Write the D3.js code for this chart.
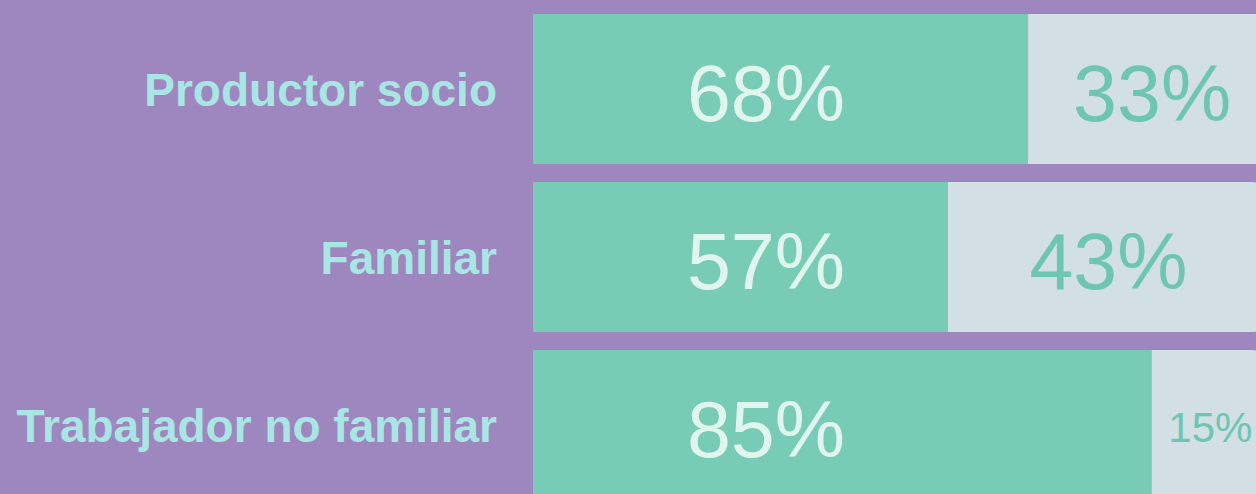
<!DOCTYPE html>
<html>
<head>
<meta charset="utf-8">
<script src="https://cdn.jsdelivr.net/npm/d3@7"></script>
<style>
  html, body { margin: 0; padding: 0; background: #9e86bf; overflow: hidden; }
  svg { display: block; }
</style>
</head>
<body>
<svg id="chart" width="1256" height="494"></svg>
<script>
const categories = ["Productor socio", "Familiar", "Trabajador no familiar"];
const primaryValues = [68, 57, 85];
const secondaryValues = [33, 43, 15];

const W = 1256, H = 494;
const svg = d3.select("#chart");
svg.append("rect").attr("width", W).attr("height", H).attr("fill", "#9e86bf");

const x = d3.scaleLinear().domain([0, 100]).range([533, 1261]);
const y = d3.scaleBand().domain(categories).range([14, 500]).paddingInner(18 / 168).paddingOuter(0);

const rows = categories.map((c, i) => ({ c, p: primaryValues[i], s: secondaryValues[i] }));

const g = svg.selectAll("g.row").data(rows).join("g").attr("class", "row");

// secondary (gray) segment
g.append("rect")
  .attr("x", d => x(d.p) - 10)
  .attr("y", d => y(d.c))
  .attr("width", d => x(d.p + d.s) - x(d.p) + 10)
  .attr("height", y.bandwidth())
  .attr("rx", 8).attr("ry", 8)
  .attr("fill", "#d2dfe4");

// primary (green) segment
g.append("rect")
  .attr("x", x(0))
  .attr("y", d => y(d.c))
  .attr("width", d => x(d.p) - x(0))
  .attr("height", y.bandwidth())
  .attr("fill", "#78cbb5");

// primary labels
g.append("text")
  .attr("x", 766)
  .attr("y", d => y(d.c) + y.bandwidth() / 2)
  .attr("dy", "0.41em")
  .attr("text-anchor", "middle")
  .attr("font-family", "'Liberation Sans', Arial, sans-serif")
  .attr("font-size", 79)
  .attr("fill", "#e0f5ee")
  .text(d => d.p + "%");

// secondary labels
g.append("text")
  .attr("x", d => (x(d.p) + x(d.p + d.s)) / 2 + 4)
  .attr("y", d => y(d.c) + y.bandwidth() / 2)
  .attr("dy", "0.41em")
  .attr("text-anchor", "middle")
  .attr("font-family", "'Liberation Sans', Arial, sans-serif")
  .attr("font-size", d => (x(d.p + d.s) - x(d.p)) < 160 ? 42 : 79)
  .attr("fill", "#6ec6b2")
  .text(d => d.s + "%");

// category labels
g.append("text")
  .attr("x", 497)
  .attr("y", d => y(d.c) + y.bandwidth() / 2)
  .attr("dy", "0.36em")
  .attr("text-anchor", "end")
  .attr("font-family", "'Liberation Sans', Arial, sans-serif")
  .attr("font-weight", "bold")
  .attr("font-size", 46)
  .attr("fill", "#a8e6e4")
  .text(d => d.c);
</script>
</body>
</html>
